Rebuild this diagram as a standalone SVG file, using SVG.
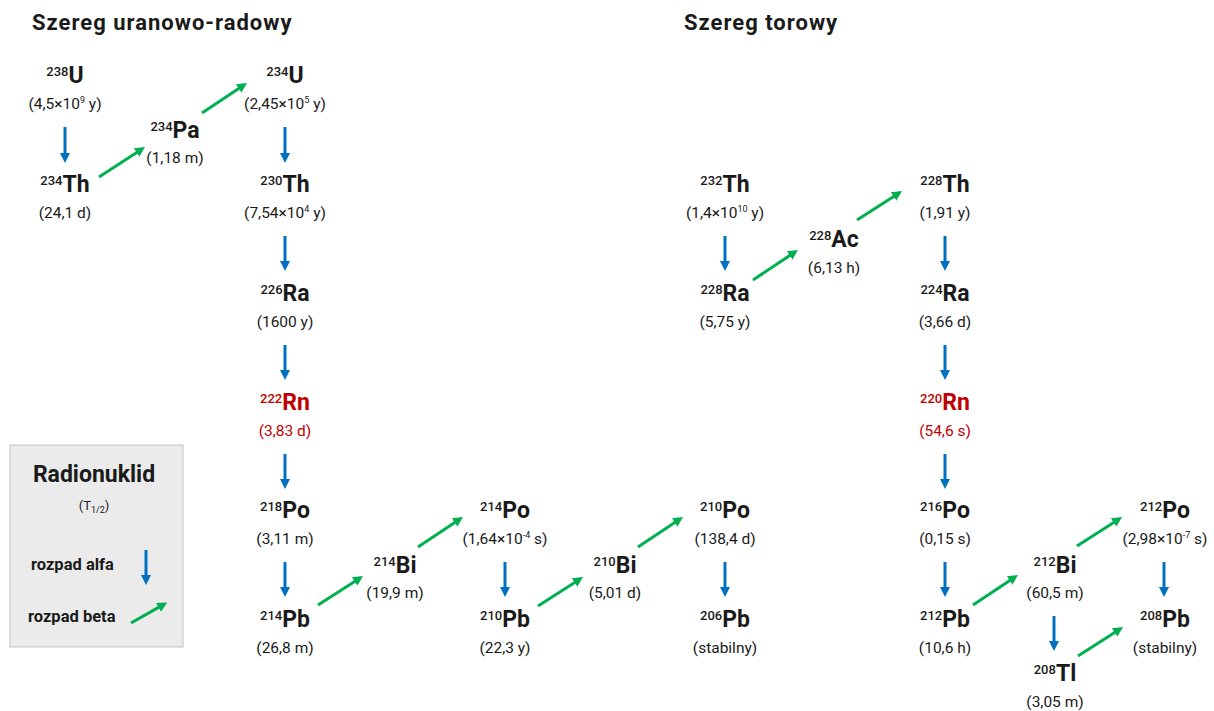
<svg xmlns="http://www.w3.org/2000/svg" width="1214" height="711" viewBox="0 0 1214 711">
  <style>
    text { font-family: Roboto, "Liberation Sans", sans-serif; fill: #1a1a1a; }
    .title { font-size: 22px; font-weight: 700; letter-spacing: 1px; }
    .sym { font-size: 23px; font-weight: 700; text-anchor: middle; }
    .iso { font-size: 13px; font-weight: 500; }
    .hl { font-size: 15.5px; text-anchor: middle; }
    .ex { font-size: 9px; }
    .red { fill: #c00000; }
    .alpha { stroke: #0070c0; stroke-width: 3; fill: none; marker-end: url(#ha); }
    .beta { stroke: #00b050; stroke-width: 3; fill: none; marker-end: url(#hb); }
    .lg { font-size: 16.5px; font-weight: 700; }
  </style>
  <defs>
    <marker id="ha" viewBox="0 0 10 10" markerUnits="userSpaceOnUse" markerWidth="10" markerHeight="10" refX="2" refY="5" orient="auto">
      <path d="M0,0L10,5L0,10z" fill="#0070c0"/>
    </marker>
    <marker id="hb" viewBox="0 0 10 10" markerUnits="userSpaceOnUse" markerWidth="10" markerHeight="10" refX="2" refY="5" orient="auto">
      <path d="M0,0L10,5L0,10z" fill="#00b050"/>
    </marker>
  </defs>

  <rect width="1214" height="711" fill="#ffffff"/>

  <!-- series headings -->
  <text class="title" x="32" y="30">Szereg uranowo-radowy</text>
  <text class="title" x="684" y="30">Szereg torowy</text>

  <!-- legend -->
  <g id="legend">
    <rect x="10" y="445" width="173" height="202" fill="#ebebeb" stroke="#c4c4c4" stroke-width="1"/>
    <text x="94" y="482" text-anchor="middle" style="font-size:23px;font-weight:700">Radionuklid</text>
    <text x="94" y="510" text-anchor="middle" style="font-size:13px">(T<tspan dy="3" style="font-size:9px">1/2</tspan><tspan dy="-3">)</tspan></text>
    <text class="lg" x="31" y="570">rozpad alfa</text>
    <text class="lg" x="28" y="622">rozpad beta</text>
    <line class="alpha" x1="146" y1="550" x2="146" y2="577"/>
    <line class="beta" x1="131" y1="623" x2="160.3" y2="606.4"/>
  </g>

  <!-- uranium-radium series -->
  <g id="U238"><text class="sym" x="65" y="83"><tspan class="iso" dy="-7">238</tspan><tspan dy="7">U</tspan></text><text class="hl" x="65" y="109">(4,5×10<tspan class="ex" dy="-6">9</tspan><tspan dy="6"> y)</tspan></text></g>
  <g id="Th234"><text class="sym" x="65" y="192"><tspan class="iso" dy="-7">234</tspan><tspan dy="7">Th</tspan></text><text class="hl" x="65" y="218">(24,1 d)</text></g>
  <g id="Pa234"><text class="sym" x="175" y="138"><tspan class="iso" dy="-7">234</tspan><tspan dy="7">Pa</tspan></text><text class="hl" x="175" y="163">(1,18 m)</text></g>
  <g id="U234"><text class="sym" x="285" y="83"><tspan class="iso" dy="-7">234</tspan><tspan dy="7">U</tspan></text><text class="hl" x="285" y="109">(2,45×10<tspan class="ex" dy="-6">5</tspan><tspan dy="6"> y)</tspan></text></g>
  <g id="Th230"><text class="sym" x="285" y="192"><tspan class="iso" dy="-7">230</tspan><tspan dy="7">Th</tspan></text><text class="hl" x="285" y="218">(7,54×10<tspan class="ex" dy="-6">4</tspan><tspan dy="6"> y)</tspan></text></g>
  <g id="Ra226"><text class="sym" x="285" y="301"><tspan class="iso" dy="-7">226</tspan><tspan dy="7">Ra</tspan></text><text class="hl" x="285" y="327">(1600 y)</text></g>
  <g id="Rn222"><text class="sym red" x="285" y="410"><tspan class="iso" dy="-7">222</tspan><tspan dy="7">Rn</tspan></text><text class="hl red" x="285" y="436">(3,83 d)</text></g>
  <g id="Po218"><text class="sym" x="285" y="518"><tspan class="iso" dy="-7">218</tspan><tspan dy="7">Po</tspan></text><text class="hl" x="285" y="544">(3,11 m)</text></g>
  <g id="Pb214"><text class="sym" x="285" y="627"><tspan class="iso" dy="-7">214</tspan><tspan dy="7">Pb</tspan></text><text class="hl" x="285" y="653">(26,8 m)</text></g>
  <g id="Bi214"><text class="sym" x="395" y="573"><tspan class="iso" dy="-7">214</tspan><tspan dy="7">Bi</tspan></text><text class="hl" x="395" y="598">(19,9 m)</text></g>
  <g id="Po214"><text class="sym" x="505" y="518"><tspan class="iso" dy="-7">214</tspan><tspan dy="7">Po</tspan></text><text class="hl" x="505" y="544">(1,64×10<tspan class="ex" dy="-6">-4</tspan><tspan dy="6"> s)</tspan></text></g>
  <g id="Pb210"><text class="sym" x="505" y="627"><tspan class="iso" dy="-7">210</tspan><tspan dy="7">Pb</tspan></text><text class="hl" x="505" y="653">(22,3 y)</text></g>
  <g id="Bi210"><text class="sym" x="615" y="573"><tspan class="iso" dy="-7">210</tspan><tspan dy="7">Bi</tspan></text><text class="hl" x="615" y="598">(5,01 d)</text></g>
  <g id="Po210"><text class="sym" x="725" y="518"><tspan class="iso" dy="-7">210</tspan><tspan dy="7">Po</tspan></text><text class="hl" x="725" y="544">(138,4 d)</text></g>
  <g id="Pb206"><text class="sym" x="725" y="627"><tspan class="iso" dy="-7">206</tspan><tspan dy="7">Pb</tspan></text><text class="hl" x="725" y="653">(stabilny)</text></g>

  <!-- thorium series -->
  <g id="Th232"><text class="sym" x="725" y="192"><tspan class="iso" dy="-7">232</tspan><tspan dy="7">Th</tspan></text><text class="hl" x="725" y="218">(1,4×10<tspan class="ex" dy="-6">10</tspan><tspan dy="6"> y)</tspan></text></g>
  <g id="Ra228"><text class="sym" x="725" y="301"><tspan class="iso" dy="-7">228</tspan><tspan dy="7">Ra</tspan></text><text class="hl" x="725" y="327">(5,75 y)</text></g>
  <g id="Ac228"><text class="sym" x="834" y="247"><tspan class="iso" dy="-7">228</tspan><tspan dy="7">Ac</tspan></text><text class="hl" x="834" y="273">(6,13 h)</text></g>
  <g id="Th228"><text class="sym" x="945" y="192"><tspan class="iso" dy="-7">228</tspan><tspan dy="7">Th</tspan></text><text class="hl" x="945" y="218">(1,91 y)</text></g>
  <g id="Ra224"><text class="sym" x="945" y="301"><tspan class="iso" dy="-7">224</tspan><tspan dy="7">Ra</tspan></text><text class="hl" x="945" y="327">(3,66 d)</text></g>
  <g id="Rn220"><text class="sym red" x="945" y="410"><tspan class="iso" dy="-7">220</tspan><tspan dy="7">Rn</tspan></text><text class="hl red" x="945" y="436">(54,6 s)</text></g>
  <g id="Po216"><text class="sym" x="945" y="518"><tspan class="iso" dy="-7">216</tspan><tspan dy="7">Po</tspan></text><text class="hl" x="945" y="544">(0,15 s)</text></g>
  <g id="Pb212"><text class="sym" x="945" y="627"><tspan class="iso" dy="-7">212</tspan><tspan dy="7">Pb</tspan></text><text class="hl" x="945" y="653">(10,6 h)</text></g>
  <g id="Bi212"><text class="sym" x="1055" y="573"><tspan class="iso" dy="-7">212</tspan><tspan dy="7">Bi</tspan></text><text class="hl" x="1055" y="598">(60,5 m)</text></g>
  <g id="Po212"><text class="sym" x="1165" y="518"><tspan class="iso" dy="-7">212</tspan><tspan dy="7">Po</tspan></text><text class="hl" x="1165" y="544">(2,98×10<tspan class="ex" dy="-6">-7</tspan><tspan dy="6"> s)</tspan></text></g>
  <g id="Pb208"><text class="sym" x="1165" y="627"><tspan class="iso" dy="-7">208</tspan><tspan dy="7">Pb</tspan></text><text class="hl" x="1165" y="653">(stabilny)</text></g>
  <g id="Tl208"><text class="sym" x="1055" y="681"><tspan class="iso" dy="-7">208</tspan><tspan dy="7">Tl</tspan></text><text class="hl" x="1055" y="707">(3,05 m)</text></g>

  <!-- decay arrows: vertical = alpha, diagonal = beta -->
  <g id="connectors">
    <line class="alpha" x1="65" y1="127" x2="65" y2="155"/>
    <line class="alpha" x1="285" y1="127" x2="285" y2="155"/>
    <line class="alpha" x1="285" y1="236" x2="285" y2="263"/>
    <line class="alpha" x1="285" y1="345" x2="285" y2="372"/>
    <line class="alpha" x1="285" y1="454" x2="285" y2="481"/>
    <line class="alpha" x1="285" y1="562" x2="285" y2="589"/>
    <line class="alpha" x1="505" y1="562" x2="505" y2="589"/>
    <line class="alpha" x1="725" y1="562" x2="725" y2="589"/>
    <line class="alpha" x1="725" y1="236" x2="725" y2="263"/>
    <line class="alpha" x1="945" y1="236" x2="945" y2="263"/>
    <line class="alpha" x1="945" y1="345" x2="945" y2="372"/>
    <line class="alpha" x1="945" y1="454" x2="945" y2="481"/>
    <line class="alpha" x1="945" y1="562" x2="945" y2="589"/>
    <line class="alpha" x1="1164" y1="562" x2="1164" y2="589"/>
    <line class="alpha" x1="1054" y1="616" x2="1054" y2="643"/>

    <line class="beta" x1="99" y1="177" x2="138.3" y2="151.4"/>
    <line class="beta" x1="202" y1="113" x2="240.3" y2="87.4"/>
    <line class="beta" x1="318" y1="605" x2="356.3" y2="580.4"/>
    <line class="beta" x1="418" y1="547" x2="456.3" y2="521.4"/>
    <line class="beta" x1="538" y1="606" x2="576.3" y2="581.4"/>
    <line class="beta" x1="638" y1="547" x2="676.3" y2="521.4"/>
    <line class="beta" x1="753" y1="280" x2="791.3" y2="254.4"/>
    <line class="beta" x1="857" y1="220" x2="895.3" y2="195.4"/>
    <line class="beta" x1="973" y1="605" x2="1011.3" y2="579.4"/>
    <line class="beta" x1="1077" y1="546" x2="1115.3" y2="521.4"/>
    <line class="beta" x1="1078" y1="656" x2="1116.3" y2="631.4"/>
  </g>
</svg>
